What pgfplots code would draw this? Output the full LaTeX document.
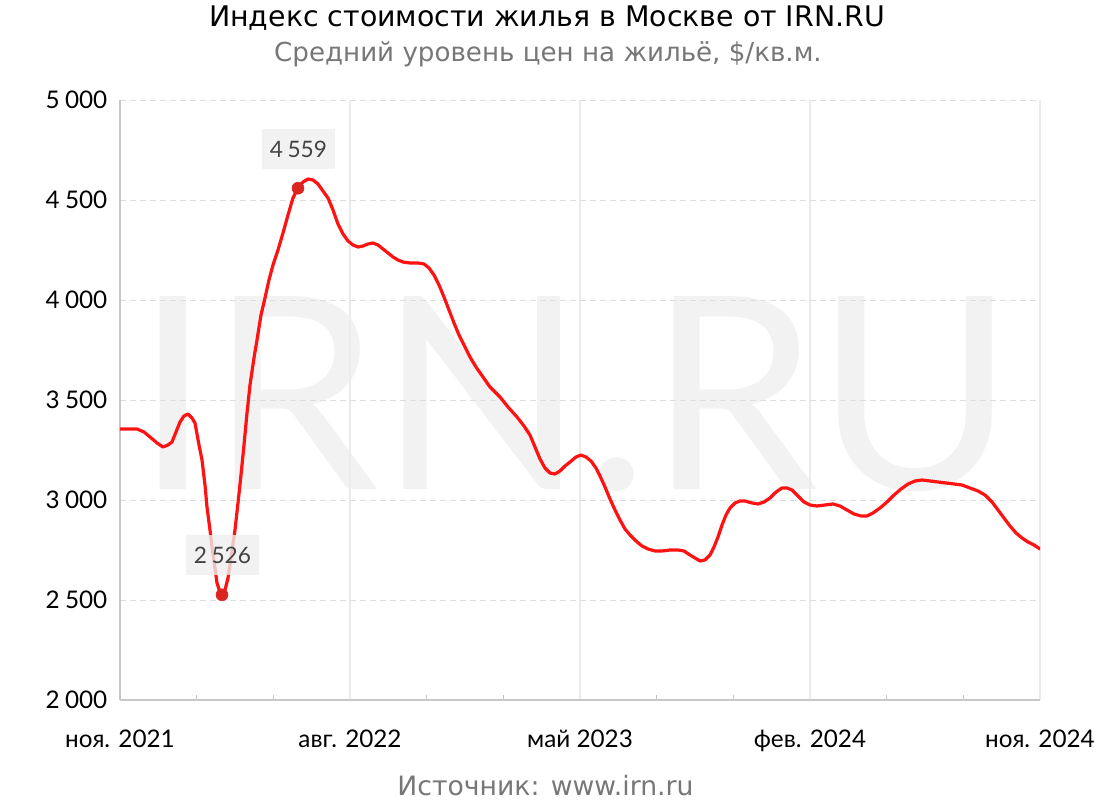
\documentclass[border=0pt]{standalone}
\usepackage{fontspec}
\setmainfont{DejaVu Sans}
\newfontfamily\lato{Lato}
\usepackage{pgfplots}
\pgfplotsset{compat=1.18}
\definecolor{linered}{HTML}{FF1212}
\definecolor{markred}{HTML}{DA2520}
\definecolor{wm}{HTML}{F2F2F2}
\definecolor{axisgray}{HTML}{C8C8C8}
\definecolor{hgrid}{HTML}{DEDEDE}
\definecolor{vgrid}{HTML}{EBEBEB}
\definecolor{subgray}{HTML}{777777}
\definecolor{lblgray}{HTML}{444444}
\definecolor{boxgray}{HTML}{EFEFEF}
\pgfplotstableread{
t v
0.000 3355
0.665 3355
0.939 3340
1.174 3315
1.448 3285
1.683 3265
1.878 3275
2.035 3290
2.191 3340
2.348 3390
2.504 3420
2.661 3430
2.817 3410
2.935 3385
3.091 3275
3.209 3200
3.326 3075
3.404 2965
3.522 2850
3.600 2765
3.717 2660
3.796 2585
3.913 2540
3.991 2526
4.109 2550
4.226 2610
4.343 2710
4.500 2850
4.617 2985
4.735 3125
4.852 3275
4.970 3435
5.087 3575
5.243 3710
5.361 3800
5.517 3925
5.674 4010
5.830 4100
5.987 4175
6.183 4250
6.378 4335
6.574 4425
6.769 4510
6.965 4559
7.161 4590
7.356 4605
7.552 4600
7.748 4580
7.943 4545
8.139 4510
8.335 4450
8.530 4380
8.726 4330
8.922 4295
9.117 4275
9.313 4265
9.509 4270
9.704 4280
9.900 4285
10.096 4275
10.291 4255
10.487 4235
10.683 4215
10.878 4200
11.074 4190
11.348 4185
11.661 4185
11.896 4180
12.091 4160
12.287 4125
12.483 4075
12.678 4015
12.874 3950
13.070 3885
13.265 3825
13.461 3775
13.696 3715
13.930 3665
14.204 3615
14.478 3565
14.870 3515
15.183 3465
15.535 3415
15.809 3370
16.043 3325
16.239 3265
16.435 3205
16.630 3160
16.826 3135
17.022 3130
17.217 3145
17.413 3170
17.609 3190
17.843 3215
18.039 3225
18.235 3215
18.430 3195
18.626 3160
18.783 3120
18.978 3065
19.174 3005
19.370 2950
19.565 2900
19.761 2855
19.957 2825
20.191 2795
20.426 2770
20.661 2755
20.935 2745
21.209 2745
21.522 2750
21.835 2750
22.070 2745
22.304 2725
22.500 2710
22.696 2695
22.891 2700
23.087 2725
23.243 2765
23.400 2815
23.557 2875
23.713 2925
23.870 2960
24.065 2985
24.261 2995
24.457 2995
24.730 2985
24.965 2980
25.200 2990
25.435 3010
25.670 3040
25.904 3060
26.100 3060
26.296 3050
26.530 3020
26.765 2990
27.000 2975
27.274 2970
27.587 2975
27.900 2980
28.174 2970
28.448 2950
28.722 2930
28.996 2920
29.230 2920
29.465 2935
29.739 2960
30.013 2990
30.287 3025
30.561 3055
30.835 3080
31.109 3095
31.383 3100
31.696 3095
32.009 3090
32.322 3085
32.635 3080
32.948 3075
33.261 3060
33.574 3045
33.848 3025
34.122 2990
34.357 2950
34.591 2910
34.826 2870
35.061 2835
35.296 2810
35.530 2790
35.765 2775
36.000 2755
}\pricedata
\pgfplotstableread{
t v
3.991 2526
6.965 4559
}\extremes
\begin{document}
\begin{tikzpicture}[x=1pt,y=1pt]
\useasboundingbox (-90,-75) rectangle (735,525);
\node[text=wm, inner sep=0pt, anchor=base, font=\lato\fontsize{202}{202}\selectfont] at (341.25,157.5) {IRN.RU};
\begin{axis}[
  scale only axis, width=690pt, height=450pt,
  xmin=0, xmax=36, ymin=2000, ymax=5000,
  axis x line*=bottom, axis y line*=left,
  axis line style={draw=axisgray, line width=1.1pt, -},
  xtick={0,9,18,27,36},
  xticklabels={ноя. 2021, авг. 2022, май 2023, фев. 2024, ноя. 2024},
  minor xtick={3,6,12,15,21,24,30,33},
  ytick={2000,2500,3000,3500,4000,4500,5000},
  major tick length=0pt, minor tick length=3.75pt, tick align=inside,
  minor tick style={draw=axisgray, line width=0.8pt},
  xmajorgrids, ymajorgrids,
  x grid style={draw=vgrid, line width=0.8pt},
  y grid style={draw=hgrid, line width=0.7pt, dash pattern=on 4.5pt off 3pt},
  tick label style={font=\lato\fontsize{18.2}{20}\selectfont, text=black},
  xticklabel style={yshift=-19pt},
  yticklabel style={xshift=-6pt},
  /pgf/number format/.cd, assume math mode=true, 1000 sep={\hspace{0.22em}},
]
\addplot[color=linered, line width=2.4pt, line join=round, line cap=round] table[x=t,y=v] {\pricedata};
\node[fill=boxgray, fill opacity=0.8, text opacity=1, text=lblgray, minimum width=54.75pt, minimum height=30pt, inner sep=0pt, font=\lato\fontsize{17}{18}\selectfont] at (axis cs:6.985,4755) {4\hspace{0.2em}559};
\node[fill=boxgray, fill opacity=0.8, text opacity=1, text=lblgray, minimum width=54.75pt, minimum height=30pt, inner sep=0pt, font=\lato\fontsize{17}{18}\selectfont] at (axis cs:4.01,2725) {2\hspace{0.2em}526};
\addplot[only marks, mark=*, mark size=4.5pt, mark options={fill=markred, draw=markred}] table[x=t,y=v] {\extremes};
\end{axis}
\node[anchor=base, font=\fontsize{21.3}{24}\selectfont] at (320.25,504.75) {Индекс стоимости жилья в Москве от IRN.RU};
\node[anchor=base, text=subgray, font=\fontsize{19.6}{22}\selectfont] at (321,478.5) {Средний уровень цен на жильё, \$/кв.м.};
\node[anchor=base, text=subgray, font=\fontsize{20}{22}\selectfont] at (319.1,-71.25) {Источник: www.irn.ru};
\end{tikzpicture}
\end{document}
